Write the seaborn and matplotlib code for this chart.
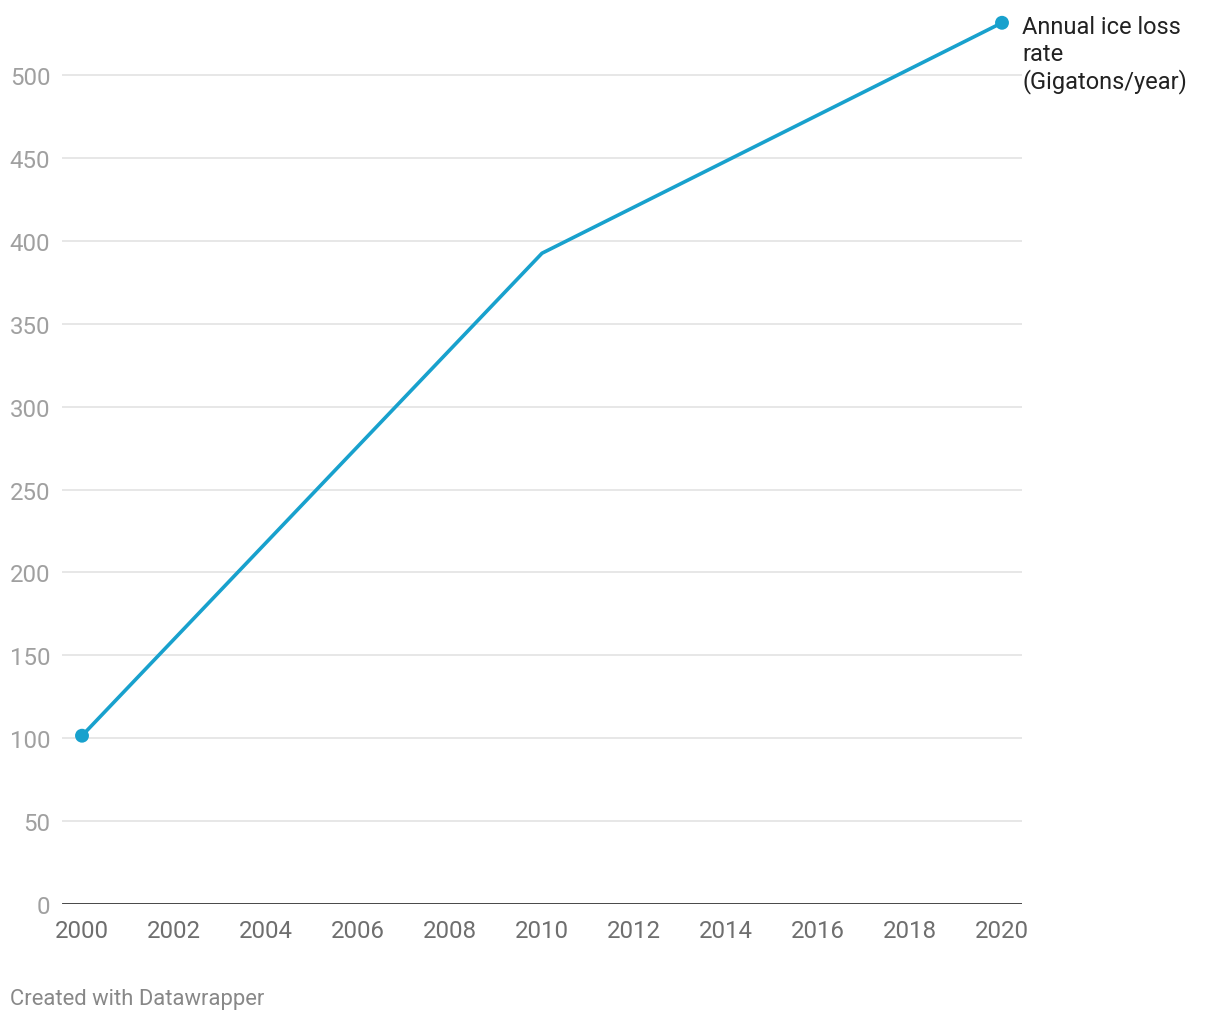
import matplotlib
matplotlib.use("Agg")
import matplotlib.pyplot as plt
import seaborn as sns
import pandas as pd

years = [2000, 2010, 2020]
ice_loss = [101.5, 392.5, 531.5]
x_ticks = list(range(2000, 2021, 2))
y_ticks = list(range(0, 501, 50))
series_label = "Annual ice loss\nrate\n(Gigatons/year)"
credit = "Created with Datawrapper"

df = pd.DataFrame({"year": years, "loss": ice_loss})

sns.set_theme(style="white")
plt.rcParams["font.family"] = ["Roboto", "DejaVu Sans"]

fig = plt.figure(figsize=(12.2, 10.2), dpi=100)
ax = fig.add_axes([62/1220, (1020-905)/1020, 960/1220, 893/1020])

color = "#18a1cd"
sns.lineplot(data=df, x="year", y="loss", ax=ax, color=color, linewidth=2.6, zorder=3)
ends = df.iloc[[0, -1]]
sns.scatterplot(data=ends, x="year", y="loss", ax=ax, color=color, s=100, edgecolor="none", zorder=4)

ax.set_xlim(2000 - 20/46, 2020 + 20/46)
ax.set_ylim(0, 893/1.658)
ax.set_xticks(x_ticks)
ax.set_yticks(y_ticks)
ax.set_xlabel("")
ax.set_ylabel("")

for y in y_ticks[1:]:
    ax.axhline(y, color="#e3e3e3", linewidth=1.2, zorder=1)
ax.axhline(0, color="#111111", linewidth=1.8, zorder=2)

for s in ax.spines.values():
    s.set_visible(False)

ax.tick_params(axis="y", length=0, pad=8.5, labelsize=17.3, labelcolor="#a0a0a0")
ax.tick_params(axis="x", length=0, pad=10.5, labelsize=17.3, labelcolor="#6e6e6e")

ax.text(1022/1220, (1020-16)/1020, series_label, transform=fig.transFigure,
        ha="left", va="top", fontsize=17, color="#222222", linespacing=1.2)

fig.text(10/1220, (1020-1000)/1020, credit, ha="left", va="center",
         fontsize=15.8, color="#888888")

fig.savefig("out.png", dpi=100)
